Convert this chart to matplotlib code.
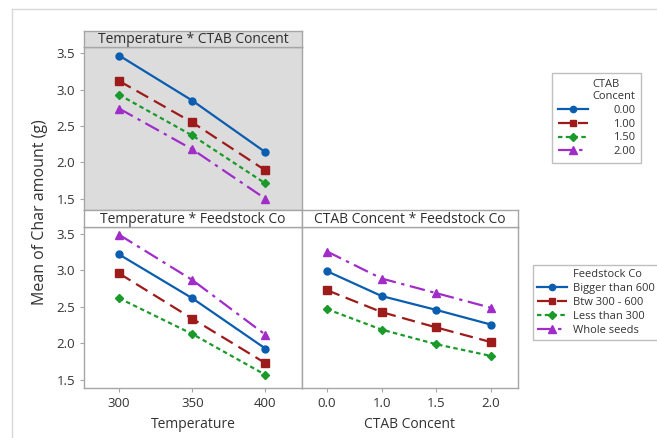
import matplotlib
matplotlib.use("Agg")
import matplotlib.pyplot as plt
from matplotlib.lines import Line2D

plt.rcParams['font.family'] = ['Open Sans', 'DejaVu Sans']

# ---- data ----
temperature = ["300", "350", "400"]
ctab_levels = ["0.0", "1.0", "1.5", "2.0"]
ctab_legend = ["0.00", "1.00", "1.50", "2.00"]
feedstock = ["Bigger than 600", "Btw 300 - 600", "Less than 300", "Whole seeds"]

temp_ctab = {
    "0.00": [3.47, 2.85, 2.14],
    "1.00": [3.12, 2.55, 1.89],
    "1.50": [2.93, 2.37, 1.71],
    "2.00": [2.74, 2.18, 1.50],
}
temp_feed = {
    "Bigger than 600": [3.22, 2.62, 1.93],
    "Btw 300 - 600": [2.96, 2.34, 1.73],
    "Less than 300": [2.62, 2.13, 1.57],
    "Whole seeds": [3.49, 2.87, 2.12],
}
ctab_feed = {
    "Bigger than 600": [2.99, 2.65, 2.46, 2.26],
    "Btw 300 - 600": [2.73, 2.43, 2.22, 2.02],
    "Less than 300": [2.47, 2.19, 1.99, 1.83],
    "Whole seeds": [3.26, 2.89, 2.69, 2.49],
}

colors = ['#0B5DB0', '#9E1B1B', '#1A9A2A', '#A02DC8']
markers = ['o', 's', 'D', '^']
msizes = [5, 5.5, 4.5, 6]
lstyles = ['-', (0, (6, 3)), (0, (2, 1.5)), (0, (7, 2.5, 1.5, 2.5))]

W, H = 657, 438
fig = plt.figure(figsize=(W / 100, H / 100), dpi=100)

def fx(px):
    return px / W

def fy(py):
    return 1 - py / H

spine_c = '#a6a6a6'
text_c = '#333333'

def make_axes(x0, x1, y0, y1, bg):
    ax = fig.add_axes([fx(x0), fy(y1), fx(x1 - x0), (y1 - y0) / H])
    ax.set_facecolor(bg)
    for s in ax.spines.values():
        s.set_color(spine_c)
        s.set_linewidth(1.0)
    ax.tick_params(colors=spine_c, labelcolor=text_c, labelsize=9.5, length=3, width=0.8)
    return ax

def make_strip(x0, x1, y0, y1, bg, title):
    ax = fig.add_axes([fx(x0), fy(y1), fx(x1 - x0), (y1 - y0) / H])
    ax.set_facecolor(bg)
    ax.set_xticks([]); ax.set_yticks([])
    for s in ax.spines.values():
        s.set_color(spine_c)
        s.set_linewidth(1.0)
    ax.text(0.5, 0.45, title, ha='center', va='center', fontsize=10, color='#2e2e2e',
            transform=ax.transAxes)
    return ax

gray_bg = '#dcdcdc'

# Top-left panel
ax1 = make_axes(84, 302, 47, 210, gray_bg)
make_strip(84, 302, 31, 47, gray_bg, "Temperature * CTAB Concent")
xs3 = list(range(len(temperature)))
for i, (k, v) in enumerate(temp_ctab.items()):
    ax1.plot(xs3, v, color=colors[i], marker=markers[i], ms=msizes[i], ls=lstyles[i], lw=1.6)
ax1.set_xlim(-0.48, 2.5)
ax1.set_ylim(1.345, 3.587)
ax1.set_xticks([])
ax1.set_yticks([1.5, 2.0, 2.5, 3.0, 3.5])
ax1.set_yticklabels(["1.5", "2.0", "2.5", "3.0", "3.5"])

# Bottom-left panel
ax2 = make_axes(84, 302, 227, 388, 'white')
make_strip(84, 302, 210, 227, 'white', "Temperature * Feedstock Co")
for i, (k, v) in enumerate(temp_feed.items()):
    ax2.plot(xs3, v, color=colors[i], marker=markers[i], ms=msizes[i], ls=lstyles[i], lw=1.6)
ax2.set_xlim(-0.48, 2.5)
ax2.set_ylim(1.39, 3.596)
ax2.set_xticks(xs3)
ax2.set_xticklabels(temperature)
ax2.set_yticks([1.5, 2.0, 2.5, 3.0, 3.5])
ax2.set_yticklabels(["1.5", "2.0", "2.5", "3.0", "3.5"])

# Bottom-right panel
ax3 = make_axes(302, 518, 227, 388, 'white')
make_strip(302, 518, 210, 227, 'white', "CTAB Concent * Feedstock Co")
xs4 = list(range(len(ctab_levels)))
for i, (k, v) in enumerate(ctab_feed.items()):
    ax3.plot(xs4, v, color=colors[i], marker=markers[i], ms=msizes[i], ls=lstyles[i], lw=1.6)
ax3.set_xlim(-0.46, 3.5)
ax3.set_ylim(1.39, 3.596)
ax3.set_xticks(xs4)
ax3.set_xticklabels(ctab_levels)
ax3.set_yticks([])

# Axis labels
fig.text(fx(193), fy(425), "Temperature", ha='center', va='center', fontsize=10, color=text_c)
fig.text(fx(410), fy(425), "CTAB Concent", ha='center', va='center', fontsize=10, color=text_c)
fig.text(fx(40), fy(212), "Mean of Char amount (g)", ha='center', va='center', rotation=90,
         fontsize=11.5, color=text_c)

# Legends
def handles():
    return [Line2D([], [], color=colors[i], marker=markers[i], ms=msizes[i] - 0.5,
                   ls=lstyles[i], lw=1.6) for i in range(4)]

leg1 = fig.legend(handles(), ctab_legend, title="CTAB\nConcent", alignment='right',
                  loc='upper left', bbox_to_anchor=(fx(552), fy(73)), fontsize=8,
                  title_fontsize=8, frameon=True, fancybox=False, edgecolor='#b0b0b0',
                  handlelength=2.7, handletextpad=2.3, labelspacing=0.25,
                  borderpad=0.5, borderaxespad=0)
leg1.get_frame().set_linewidth(1.0)
for t in leg1.get_texts():
    t.set_color(text_c)
leg1.get_title().set_color(text_c)

leg2 = fig.legend(handles(), feedstock, title="Feedstock Co", alignment='left',
                  loc='upper left', bbox_to_anchor=(fx(533), fy(265)), fontsize=8,
                  title_fontsize=8, frameon=True, fancybox=False, edgecolor='#b0b0b0',
                  handlelength=2.7, handletextpad=0.5, labelspacing=0.25,
                  borderpad=0.4, borderaxespad=0)
leg2.get_frame().set_linewidth(1.0)
for t in leg2.get_texts():
    t.set_color(text_c)
leg2.get_title().set_color(text_c)
# indent the title to line up with the labels
leg2.get_title().set_position((36, 0))

# Outer frame lines
fig.add_artist(Line2D([fx(12), fx(12)], [fy(9), 0], color='#d9d9d9', lw=1.0))
fig.add_artist(Line2D([fx(12), 1], [fy(9), fy(9)], color='#d9d9d9', lw=1.0))

fig.savefig("out.png", dpi=100)
